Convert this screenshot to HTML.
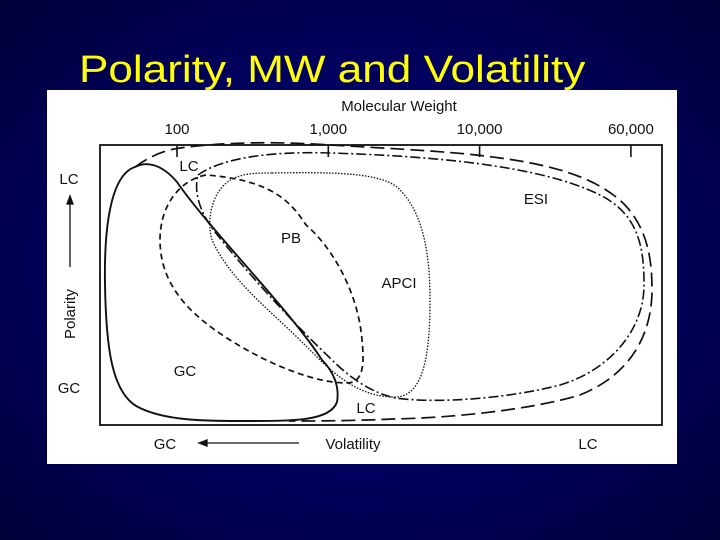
<!DOCTYPE html>
<html><head><meta charset="utf-8"><style>
html,body{margin:0;padding:0;width:720px;height:540px;overflow:hidden}
body{background:radial-gradient(ellipse at 50% 50%,#000078 0%,#00005c 55%,#000038 100%);font-family:"Liberation Sans",sans-serif}
#title{position:absolute;left:79px;top:47px;font-size:38px;color:#ffff00;white-space:nowrap;line-height:46px;transform:scaleX(1.16);transform-origin:0 0}
#fig{position:absolute;left:47px;top:90px;width:630px;height:374px;background:#fff}
svg{position:absolute;left:0;top:0}
</style></head><body>
<div id="title">Polarity, MW and Volatility</div>
<div id="fig"></div>
<svg width="720" height="540" font-family="Liberation Sans, sans-serif" fill="none" stroke="#111">
<rect x="100" y="145" width="562" height="280" stroke-width="1.8"/>
<g id="ticks" stroke-width="1.6"></g>
<path stroke-width="1.9" d="M135,167 C110,175 104,230 105,285 C106,340 110,395 140,408 C165,420 200,421 240,421 C290,421 330,422 337,402 C340,385 332,370 322,360 C290,310 210,230 177,182 C160,162 145,162 135,167 Z"/>
<path stroke-width="1.7" stroke-dasharray="6,4" d="M206,175 C180,180 160,205 160,240 C160,285 190,315 230,340 C270,365 315,383 347,383 C365,383 364,360 362,340 C358,290 330,245 306,225 C290,200 270,180 206,175 Z"/>
<path stroke-width="1.3" stroke-dasharray="1.5,1.5" d="M272,173 C330,172 385,172 400,190 C425,215 430,260 430,300 C430,350 425,397 395,397 C355,397 330,370 305,345 C270,310 230,280 212,240 C205,215 215,182 240,176 C250,173 260,173 272,173 Z"/>
<path stroke-width="1.6" stroke-dasharray="10,3,2,3" d="M198,175 C230,152 300,152 330,153 C430,156 540,165 600,195 C640,215 644,250 644,285 C644,330 610,370 560,385 C510,398 440,404 395,398 C370,392 350,378 330,358 C290,320 245,270 215,232 C198,210 194,190 198,175 Z"/>
<path stroke-width="1.7" stroke-dasharray="14,6" d="M135,167 C150,156 165,150 180,148 C240,140 300,143 330,145 C400,149 460,152 500,158 C560,166 600,180 625,205 C648,230 652,260 652,290 C652,335 630,375 580,395 C530,410 450,418 393,419 C350,421 310,421 289,421"/>
<g id="labels" fill="#111" stroke="none" font-size="15"></g>
<g stroke-width="1.3"><line x1="70" y1="267" x2="70" y2="200"/><path d="M67,204 L70,196 L73,204 Z" fill="#111"/></g>
<g stroke-width="1.3"><line x1="299" y1="443" x2="203" y2="443"/><path d="M207,440 L199,443 L207,446 Z" fill="#111"/></g>
</svg>
<script>
const tickLabels=["100","1,000","10,000","60,000"];
const tickPos=[0,1,2,3];
const tickDepth=[12,12,12,12];
const NS="http://www.w3.org/2000/svg";
function xTick(i){return 177+i*151.3;}
const tg=document.getElementById('ticks'),lg=document.getElementById('labels');
tickPos.forEach((p,i)=>{
  const l=document.createElementNS(NS,'line');
  l.setAttribute('x1',xTick(p));l.setAttribute('x2',xTick(p));
  l.setAttribute('y1',145);l.setAttribute('y2',145+tickDepth[i]);
  
  
  tg.appendChild(l);
  const t=document.createElementNS(NS,'text');
  t.setAttribute('x',xTick(p));t.setAttribute('y',134);t.setAttribute('text-anchor','middle');
  t.textContent=tickLabels[i];
  
  
  lg.appendChild(t);
});
const labelText=["Molecular Weight","LC","ESI","PB","APCI","GC","LC","LC","GC","GC","Volatility","LC"];
const labelX=[399,189,536,291,399,185,366,69,69,165,353,588];
const labelY=[111,171,204,243,288,376,413,184,393,449,449,449];
const labelNames=["mw-axis-title","lc-label-top","esi-label","pb-label","apci-label","gc-label","lc-label-bottom","polarity-lc-label","polarity-gc-label","volatility-gc-label","volatility-axis-title","volatility-lc-label"];
labelText.forEach((s,i)=>{
  const t=document.createElementNS(NS,'text');
  t.setAttribute('x',labelX[i]);t.setAttribute('y',labelY[i]);t.setAttribute('text-anchor','middle');
  t.textContent=s;
  
  
  lg.appendChild(t);
});
const pt=document.createElementNS(NS,'text');
pt.setAttribute('transform','translate(75,314) rotate(-90)');pt.setAttribute('text-anchor','middle');
pt.textContent='Polarity';


lg.appendChild(pt);
</script>
</body></html>
